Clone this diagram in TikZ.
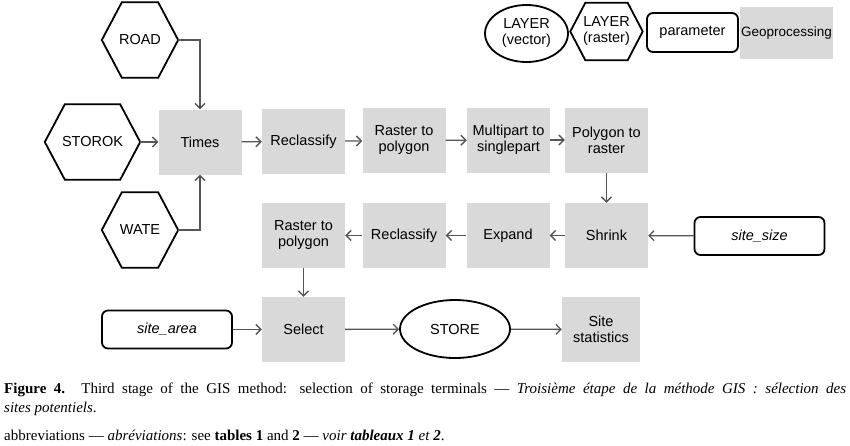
\documentclass[tikz,border=0pt]{standalone}
\usepackage{fontspec}
\setmainfont{Liberation Sans}
\newfontfamily\capfont{Liberation Serif}
\usetikzlibrary{arrows.meta,calc,shapes.geometric}
\definecolor{boxgray}{HTML}{D9D9D9}
\definecolor{arrgray}{HTML}{555555}
\tikzset{
  geo/.style={fill=boxgray,draw=none,minimum width=83pt,minimum height=65pt,inner sep=1pt,align=center,font=\fontsize{14.5}{16}\selectfont},
  hexnode/.style={draw=none,inner sep=0pt,align=center,font=\fontsize{14.5}{16}\selectfont},
  param/.style={draw=black,line width=1.8pt,rounded corners=6pt,minimum width=130pt,minimum height=38pt,font=\fontsize{14.5}{16}\selectfont\itshape},
  layer/.style={draw=black,line width=1.8pt,ellipse,inner sep=0pt,align=center,font=\fontsize{14.5}{16}\selectfont},
  conn/.style={draw=arrgray,line width=1.3pt,-{Straight Barb[length=5pt,width=10pt,line width=1.3pt]}},
  hexline/.style={draw=black,line width=1.8pt,line join=miter},
  captext/.style={anchor=base west,inner sep=0pt,font=\capfont\fontsize{15}{18}\selectfont}
}
\newcommand{\hexdraw}[2]{%
  \draw[hexline] (#1.west) -- ($(#1.north west)+(#2,0)$) -- ($(#1.north east)+(-#2,0)$) -- (#1.east) -- ($(#1.south east)+(-#2,0)$) -- ($(#1.south west)+(#2,0)$) -- cycle;}
\begin{document}
\begin{tikzpicture}[x=1pt,y=-1pt]
\useasboundingbox (0,0) rectangle (850,445);
% input hexagons
\node[hexnode,minimum width=76pt,minimum height=75pt] (road) at (140,40) {ROAD};
\hexdraw{road}{20pt}
\node[hexnode,minimum width=95pt,minimum height=75pt] (storok) at (92.5,142) {STOROK};
\hexdraw{storok}{20pt}
\node[hexnode,minimum width=76pt,minimum height=75pt] (wate) at (140,230) {WATE};
\hexdraw{wate}{20pt}
% row 1
\node[geo] (times) at (200,142) {Times};
\node[geo] (recl1) at (303.5,141.5) {Reclassify};
\node[geo] (r2p1) at (404,140.5) {Raster to\\polygon};
\node[geo] (m2s) at (508.5,140) {Multipart to\\singlepart};
\node[geo] (p2r) at (606.5,140) {Polygon to\\raster};
% row 2
\node[geo] (shrink) at (606.5,235.5) {Shrink};
\node[geo] (expand) at (508,235.5) {Expand};
\node[geo] (recl2) at (404,235.5) {Reclassify};
\node[geo] (r2p2) at (303.5,235.5) {Raster to\\polygon};
\node[param] (sitesize) at (759.5,236) {site\_size};
% row 3
\node[param] (sitearea) at (167,329.5) {site\_area};
\node[geo] (select) at (303.5,329.5) {Select};
\node[layer,minimum width=110pt,minimum height=58pt] (store) at (455,329) {STORE};
\node[geo,minimum width=78pt] (stats) at (601,329.5) {Site\\statistics};
% legend
\node[layer,minimum width=83pt,minimum height=57pt] (lvec) at (526.5,33.5) {LAYER\\(vector)};
\node[hexnode,minimum width=72pt,minimum height=57pt] (lras) at (606.5,31.5) {LAYER\\(raster)};
\hexdraw{lras}{15pt}
\node[param,font=\fontsize{14.5}{16}\selectfont,minimum width=91pt,minimum height=39pt] (lpar) at (692.5,32.5) {parameter};
\node[geo,minimum width=93pt,minimum height=52pt,font=\fontsize{13.5}{16}\selectfont] (lgeo) at (786.5,33) {Geoprocessing};
% connectors
\draw[conn] (road.east) -| (times.north);
\draw[conn] (wate.east) -| (times.south);
\draw[conn] (storok.east) -- (times.west);
\draw[conn] (times) -- (recl1);
\draw[conn] (recl1) -- (r2p1);
\draw[conn] (r2p1) -- (m2s);
\draw[conn] (m2s) -- (p2r);
\draw[conn] (p2r) -- (shrink);
\draw[conn] (sitesize) -- (shrink);
\draw[conn] (shrink) -- (expand);
\draw[conn] (expand) -- (recl2);
\draw[conn] (recl2) -- (r2p2);
\draw[conn] (r2p2) -- (select);
\draw[conn] (sitearea) -- (select);
\draw[conn] (select) -- (store);
\draw[conn] (store) -- (stats);
% caption
\node[captext] (cap1) at (4,393) {\makebox[842pt][s]{\textbf{Figure 4.} Third stage of the GIS method: selection of storage terminals — \textit{Troisième étape de la méthode GIS : sélection des}}};
\node[captext] (cap2) at (4,412) {\textit{sites potentiels}.};
\node[captext] (cap3) at (4,440) {abbreviations — \textit{abréviations}: see \textbf{tables 1} and \textbf{2} — \textit{voir \textbf{tableaux 1} et \textbf{2}}.};
\end{tikzpicture}
\end{document}
